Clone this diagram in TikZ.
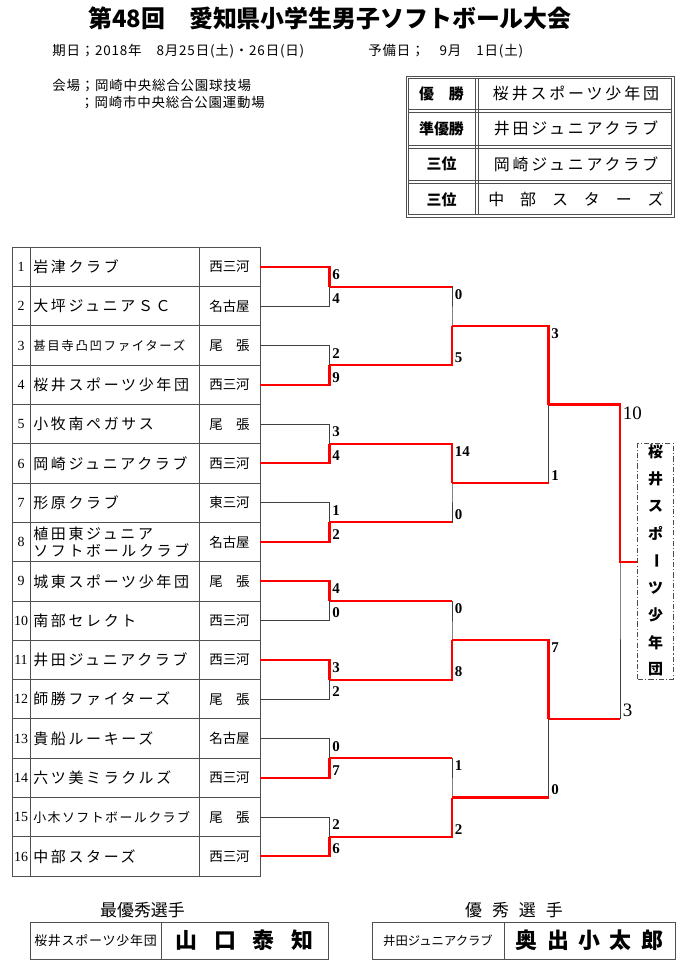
\documentclass[tikz,border=0pt]{standalone}
\usepackage{fontspec}
\setmainfont{Liberation Serif}
\newfontfamily\jp{Noto Sans CJK JP}
\usetikzlibrary{calc,positioning}
\definecolor{winred}{RGB}{255,0,0}
\definecolor{rulegray}{RGB}{80,80,80}
\newcommand\px[1]{\fontsize{\fpeval{0.5669*#1}pt}{\fpeval{0.68*#1}pt}\selectfont}
\newcommand\trk[1]{\addfontfeatures{LetterSpace=#1}}

\begin{document}
\begin{tikzpicture}[x=0.02cm, y=-0.02cm,
    rule/.style={draw=rulegray, line width=0.5pt},
    loser/.style={draw=black!75, line width=0.55pt},
    winner/.style={draw=winred, line width=1.15pt},
    score/.style={font=\bfseries\px{15}, inner xsep=1.5pt, inner ysep=1.3pt},
    final/.style={font=\px{19}, inner xsep=1.5pt, inner ysep=1.3pt},
    info/.style={font={\jp\px{13.5}\trk{6}}, inner sep=0pt, anchor=west},
    vchar/.style={font=\jp\bfseries\px{15}, inner sep=0pt}]
  \useasboundingbox (0,0) rectangle (700,974);

  % title and dates
  \node[font=\jp\bfseries\px{24}] (title) at (330,18) {第48回　愛知県小学生男子ソフトボール大会};
  \node[info] (date) at (52,51) {期日；2018年　8月25日(土)・26日(日)};
  \node[info] (spare) at (368,51) {予備日；　9月　1日(土)};
  \node[info] (venue1) at (52,86) {会場；岡崎中央総合公園球技場};
  \node[info] (venue2) at (80,103) {；岡崎市中央総合公園運動場};

  % results (double rules)
  \draw[rule] (406,76) rectangle (674,217);
  \draw[rule] (408.5,78.5) rectangle (671.5,214.5);
  \draw[rule] (475.5,78.5) -- (475.5,214.5) (478.5,78.5) -- (478.5,214.5);
  \foreach \yy in {111.25,146.5,181.75}
    \draw[rule] (408.5,\yy-1.5) -- (671.5,\yy-1.5) (408.5,\yy+1.5) -- (671.5,\yy+1.5);
  \foreach \lab/\team/\sp [count=\k] in {{優　勝}/桜井スポーツ少年団/18, 準優勝/井田ジュニアクラブ/18,
      三位/岡崎ジュニアクラブ/18, 三位/{中　部　ス　タ　ー　ズ}/0} {
    \pgfmathsetmacro\yy{76+35.25*(\k-0.5)}
    \node[font=\jp\bfseries\px{15}] (pos\k) at (441.5,\yy) {\lab};
    \node[font={\jp\px{16}\trk{\sp}}] (res\k) at (576,\yy) {\team};
  }

  % team table
  \draw[rule] (12,247.3) rectangle (260,876);
  \draw[rule] (30,247.3) -- (30,876) (199,247.3) -- (199,876);
  \foreach \i in {1,...,15} \draw[rule] (12,{247.3+39.3*\i}) -- (260,{247.3+39.3*\i});
  \foreach \i/\nm/\rg/\sz/\sp in {1/岩津クラブ/西三河/15/18, 2/大坪ジュニアＳＣ/名古屋/15/18,
      3/甚目寺凸凹ファイターズ/尾　張/12.5/13, 4/桜井スポーツ少年団/西三河/15/18,
      5/小牧南ペガサス/尾　張/15/18, 6/岡崎ジュニアクラブ/西三河/15/18,
      7/形原クラブ/東三河/15/18, 8/{植田東ジュニア\\ソフトボールクラブ}/名古屋/15/18,
      9/城東スポーツ少年団/尾　張/15/18, 10/南部セレクト/西三河/15/18,
      11/井田ジュニアクラブ/西三河/15/18, 12/師勝ファイターズ/尾　張/15/18,
      13/貴船ルーキーズ/名古屋/15/18, 14/六ツ美ミラクルズ/西三河/15/18,
      15/小木ソフトボールクラブ/尾　張/13/11, 16/中部スターズ/西三河/15/18} {
    \pgfmathsetmacro\yy{227.65+39.3*\i}
    \node[font=\px{14}, inner sep=0pt] (n\i) at (21,\yy) {\i};
    \node[font={\jp\px{\sz}\trk{\sp}}, anchor=west, align=left, inner sep=0pt] (t\i) at (33,\yy) {\nm};
    \node[font=\jp\px{13.5}, inner sep=0pt] (r\i) at (229.5,\yy) {\rg};
    \coordinate (e\i) at (260,\yy);
  }

  % first round
  \foreach \m/\w/\st/\sb in {1/1/6/4, 2/2/2/9, 3/2/3/4, 4/2/1/2, 5/1/4/0, 6/1/3/2, 7/2/0/7, 8/2/2/6} {
    \pgfmathtruncatemacro\ta{2*\m-1}
    \pgfmathtruncatemacro\tb{2*\m}
    \pgfmathtruncatemacro\tw{2*\m-2+\w}
    \coordinate (a\m) at ($(e\ta)!0.5!(e\tb)+(69.5,0)$);
    \draw[loser] (e\ta) -| (a\m) |- (e\tb);
    \draw[winner] (e\tw) -| (a\m);
    \node[score, anchor=north west] (a\m-hi) at (e\ta -| a\m) {\st};
    \node[score, anchor=south west] (a\m-lo) at (e\tb -| a\m) {\sb};
  }

  % second round
  \foreach \q/\w/\st/\sb in {1/2/0/5, 2/1/14/0, 3/2/0/8, 4/2/1/2} {
    \pgfmathtruncatemacro\ta{2*\q-1}
    \pgfmathtruncatemacro\tb{2*\q}
    \pgfmathtruncatemacro\tw{2*\q-2+\w}
    \pgfmathtruncatemacro\tl{2*\q+1-\w}
    \coordinate (b\q) at ($(a\ta)!0.5!(a\tb)+(122.5,0)$);
    \draw[loser] (a\ta) -| (b\q) |- (a\tb);
    \draw[winner] (a\tw) -| (b\q);
    \draw[winner] (a\tl) -- (a\tl -| b\q);
    \node[score, anchor=north west] (b\q-hi) at (a\ta -| b\q) {\st};
    \node[score, anchor=south west] (b\q-lo) at (a\tb -| b\q) {\sb};
  }

  % semi finals
  \foreach \s/\st/\sb in {1/3/1, 2/7/0} {
    \pgfmathtruncatemacro\ta{2*\s-1}
    \pgfmathtruncatemacro\tb{2*\s}
    \coordinate (c\s) at ($(b\ta)!0.5!(b\tb)+(96.5,0)$);
    \draw[loser] (b\ta) -| (c\s) |- (b\tb);
    \draw[winner] (b\ta) -| (c\s);
    \draw[winner] (b\tb) -- (b\tb -| c\s);
    \node[score, anchor=north west] (c\s-hi) at (b\ta -| c\s) {\st};
    \node[score, anchor=south west] (c\s-lo) at (b\tb -| c\s) {\sb};
  }

  % final
  \node[draw=black!70, line width=0.5pt, dash pattern=on 3pt off 1.2pt on 0.6pt off 1.2pt,
        minimum width=0.712cm, minimum height=4.714cm, inner sep=0pt] (champ) at (655.5,561.2) {};
  \coordinate (f) at ($(c1)!0.5!(c2)+(71.5,0)$);
  \draw[loser] (c1) -| (f) |- (c2);
  \draw[winner] (c1) -| (f) -- (f -| champ.west);
  \draw[winner] (c2) -- (c2 -| f);
  \node[final, anchor=north west] (f-hi) at (c1 -| f) {10};
  \node[final, anchor=south west] (f-lo) at (c2 -| f) {3};
  \foreach \c [count=\k from 0] in {桜,井,ス,ポ,ー,ツ,少,年,団}
    \node[vchar, rotate={(\k==4)*(-90)}] (v\k) at (655.5,{452+27.2*\k}) {\c};

  % players
  \node[font=\jp\px{17}] (mvph) at (142.5,910) {最優秀選手};
  \node[font=\jp\px{17}] (goodh) at (514,910) {優\hspace{0.2cm}秀\hspace{0.2cm}選\hspace{0.2cm}手};
  \draw[rule] (30,922) rectangle (328,959) (161,922) -- (161,959);
  \draw[rule] (372,922) rectangle (675,959) (504,922) -- (504,959);
  \node[font={\jp\px{13}\trk{6}}] (mvpteam) at (95.5,940.5) {桜井スポーツ少年団};
  \node[font=\jp\bfseries\px{22}] (mvp) at (244.5,940.5) {山\hspace{0.33cm}口\hspace{0.33cm}泰\hspace{0.33cm}知};
  \node[font=\jp\px{12.4}] (goodteam) at (438,940.5) {井田ジュニアクラブ};
  \node[font=\jp\bfseries\px{22}] (good) at (589.5,940.5) {奥\hspace{0.19cm}出\hspace{0.19cm}小\hspace{0.19cm}太\hspace{0.19cm}郎};
\end{tikzpicture}
\end{document}
